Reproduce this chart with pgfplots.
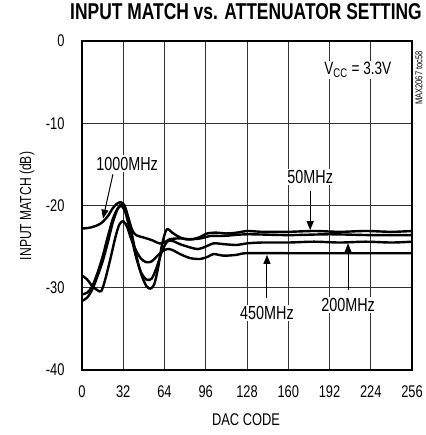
\documentclass[border=0pt]{standalone}
\usepackage{fontspec}
\setmainfont{Liberation Sans}[FakeStretch=0.76]
\usepackage{pgfplots}
\pgfplotsset{compat=1.18}
\usetikzlibrary{arrows.meta}
\tikzset{lbl/.style={font=\fontsize{19}{19}\selectfont, fill=white, inner sep=1.5bp}}

\begin{document}
\begin{tikzpicture}
\path[use as bounding box] (-82bp,-65bp) rectangle (344bp,370bp);
\begin{axis}[
  at={(0,0)}, anchor=south west,
  scale only axis, width=330bp, height=329bp,
  xmin=0, xmax=256, ymin=-40, ymax=0,
  xtick={0,32,...,256}, ytick={-40,-30,...,0},
  xticklabels={0,32,64,96,128,160,192,224,256},
  yticklabels={-40,-30,-20,-10,0},
  major tick length=0pt,
  grid=major,
  major grid style={line width=0.8bp, black!80},
  axis line style={line width=2bp},
  xticklabel style={font=\fontsize{17}{17}\selectfont, yshift=-12bp},
  yticklabel style={font=\fontsize{17}{17}\selectfont, xshift=-14bp},
  clip=false,
]
\addplot[line width=2.4bp, black, smooth, tension=0.5] coordinates {
(0,-31.6) (4,-31.2) (8,-30.2) (12,-28.6) (16,-26.8) (20,-24.5) (24,-22.0) (28,-20.3) (31,-19.9) (34,-20.6) (38,-23.0) (42,-26.0) (46,-28.4) (50,-29.8) (53,-30.1) (56,-29.6) (59,-27.6) (62,-24.8) (65,-23.1) (67,-22.9) (70,-23.3) (75,-23.8) (80,-24.1) (86,-24.1) (92,-23.8) (97,-23.4) (104,-23.3) (112,-23.4) (120,-23.3) (128,-23.1) (140,-23.2) (160,-23.2) (180,-23.1) (200,-23.2) (220,-23.1) (240,-23.2) (256,-23.1)};
\addplot[line width=2.4bp, black, smooth, tension=0.5] coordinates {
(0,-22.8) (6,-22.7) (12,-22.4) (16,-22.0) (20,-21.3) (24,-20.3) (27,-19.8) (30,-19.6) (33,-20.0) (36,-21.5) (39,-23.0) (42,-23.6) (48,-23.9) (54,-24.2) (60,-24.6) (64,-24.5) (68,-24.1) (76,-24.0) (84,-24.1) (92,-24.0) (100,-23.7) (110,-23.7) (128,-23.5) (160,-23.6) (192,-23.5) (224,-23.6) (256,-23.6)};
\addplot[line width=2.4bp, black, smooth, tension=0.5] coordinates {
(0,-30.8) (4,-30.6) (8,-29.8) (12,-28.2) (16,-26.2) (20,-23.8) (24,-21.6) (28,-20.3) (31,-20.1) (34,-21.0) (38,-23.6) (42,-26.3) (46,-28.2) (50,-29.0) (54,-28.9) (58,-27.5) (62,-25.6) (66,-24.4) (70,-24.3) (76,-24.7) (84,-25.1) (90,-25.3) (96,-25.0) (102,-24.6) (110,-24.7) (120,-24.8) (128,-24.6) (140,-24.5) (160,-24.5) (180,-24.4) (200,-24.5) (220,-24.4) (240,-24.5) (256,-24.4)};
\addplot[line width=2.4bp, black, smooth, tension=0.5] coordinates {
(0,-28.5) (4,-29.0) (8,-29.8) (12,-30.3) (15,-30.4) (18,-29.0) (22,-26.5) (26,-23.8) (29,-22.3) (32,-21.9) (35,-22.6) (38,-24.0) (42,-25.5) (46,-26.5) (50,-26.9) (54,-26.8) (58,-26.2) (62,-25.6) (66,-25.3) (70,-25.4) (76,-25.9) (84,-26.4) (92,-26.5) (98,-26.2) (102,-25.9) (110,-26.1) (120,-26.0) (128,-25.8) (160,-25.8) (192,-25.8) (224,-25.8) (256,-25.8)};

% annotations
\node[lbl] at (axis cs:35,-14.9) {1000MHz};
\draw[line width=1bp, -{Triangle[length=9bp,width=7bp]}] (axis cs:24,-16.2) -- (axis cs:16.3,-21.6);
\node[lbl] at (axis cs:177,-16.5) {50MHz};
\draw[line width=1bp, -{Triangle[length=9bp,width=7bp]}] (axis cs:177,-18.2) -- (axis cs:177,-23.0);
\node[lbl] at (axis cs:206.4,-32.1) {200MHz};
\draw[line width=1bp, -{Triangle[length=9bp,width=7bp]}] (axis cs:206.4,-30.3) -- (axis cs:206.4,-24.6);
\node[lbl] at (axis cs:143.5,-33.1) {450MHz};
\draw[line width=1bp, -{Triangle[length=9bp,width=7bp]}] (axis cs:143.5,-31.3) -- (axis cs:143.5,-26.0);
\node[font=\fontsize{18}{18}\selectfont, fill=white, inner sep=1.5bp] at (axis cs:214,-3.5) {V\textsubscript{CC} = 3.3V};
\end{axis}
\node[font=\fontsize{23}{23}\selectfont\bfseries] at (164bp,358bp) {INPUT MATCH vs. ATTENUATOR SETTING};
\node[font=\fontsize{17}{17}\selectfont] at (164bp,-50bp) {DAC CODE};
\node[font=\fontsize{16}{16}\selectfont, rotate=90] at (-55bp,164bp) {INPUT MATCH (dB)};
\node[font=\fontsize{10}{10}\selectfont, rotate=90] at (337bp,292bp) {MAX2067 toc58};
\end{tikzpicture}
\end{document}
